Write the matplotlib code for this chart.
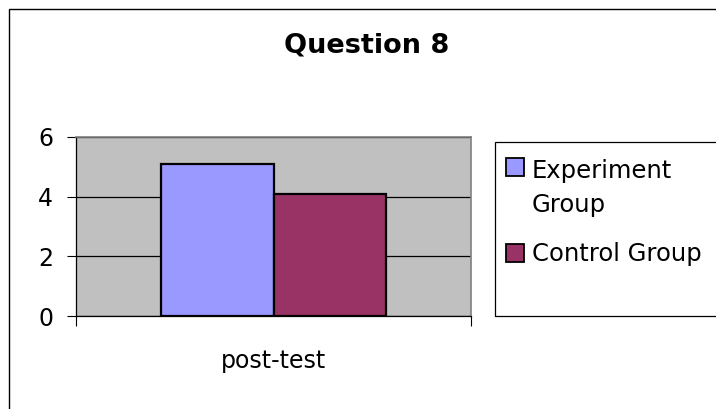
import matplotlib
matplotlib.use('Agg')
import matplotlib.pyplot as plt
from matplotlib.patches import Rectangle

plt.rcParams['font.family'] = ['DejaVu Sans']

# data
categories = ['post-test']
series_names = ['Experiment Group', 'Control Group']
legend_labels = ['Experiment\nGroup', 'Control Group']
series_values = [[5.1], [4.1]]
series_colors = ['#9999FF', '#993366']
yticks = [0, 2, 4, 6]

W, H = 716, 409
fig = plt.figure(figsize=(W / 100, H / 100), dpi=100)

# outer chart frame
fig.add_artist(Rectangle((9 / W, -0.5), 2, 1.5 - 9 / H, transform=fig.transFigure,
                         fill=False, edgecolor='black', linewidth=1.0))

ax = fig.add_axes([76 / W, 1 - 316 / H, (471 - 76) / W, (316 - 137) / H])
ax.set_facecolor('#C0C0C0')

bw = 1 / 3.5
n = len(series_names)
for i, (name, vals, col) in enumerate(zip(series_names, series_values, series_colors)):
    offs = (i - (n - 1) / 2) * bw
    ax.bar([k + offs for k in range(len(categories))], vals, width=bw, color=col,
           edgecolor='black', linewidth=1.6, label=name, zorder=3)

ax.set_xlim(-0.5, len(categories) - 0.5)
ax.set_ylim(0, 6)
ax.set_yticks(yticks)
ax.yaxis.grid(True, color='black', linewidth=0.9, zorder=1)
ax.set_axisbelow(True)

ax.set_xticks([k - 0.5 for k in range(len(categories) + 1)])
ax.set_xticklabels([])
ax.set_xticks(range(len(categories)), minor=True)
ax.set_xticklabels(categories, minor=True)
ax.tick_params(axis='x', which='major', direction='out', length=7, width=0.8, color='black')
ax.tick_params(axis='x', which='minor', length=0, pad=24, labelsize=17)
ax.tick_params(axis='y', direction='out', length=6.5, width=0.8, pad=10, labelsize=17)

for s in ['top', 'right']:
    ax.spines[s].set_color('#808080')
    ax.spines[s].set_linewidth(1.2)
for s in ['left', 'bottom']:
    ax.spines[s].set_color('black')
    ax.spines[s].set_linewidth(0.9)

# title
fig.text(367 / W, 1 - 46 / H, 'Question 8', ha='center', va='center',
         fontsize=19.5, fontweight='bold')

# legend box
fig.add_artist(Rectangle((495 / W, 1 - 316 / H), 1, (316 - 142) / H, transform=fig.transFigure,
                         fill=False, edgecolor='black', linewidth=0.9))
sq_tops = [158, 244]
txt_base = [212, 261]  # baseline of the last line of each label
for lab, col, t, b in zip(legend_labels, series_colors, sq_tops, txt_base):
    fig.add_artist(Rectangle((506 / W, 1 - (t + 18) / H), 18 / W, 18 / H, transform=fig.transFigure,
                             facecolor=col, edgecolor='black', linewidth=1.3))
    fig.text(532 / W, 1 - b / H, lab, ha='left', va='baseline', fontsize=17.5,
             linespacing=1.5)

fig.savefig('out.png', dpi=100)
